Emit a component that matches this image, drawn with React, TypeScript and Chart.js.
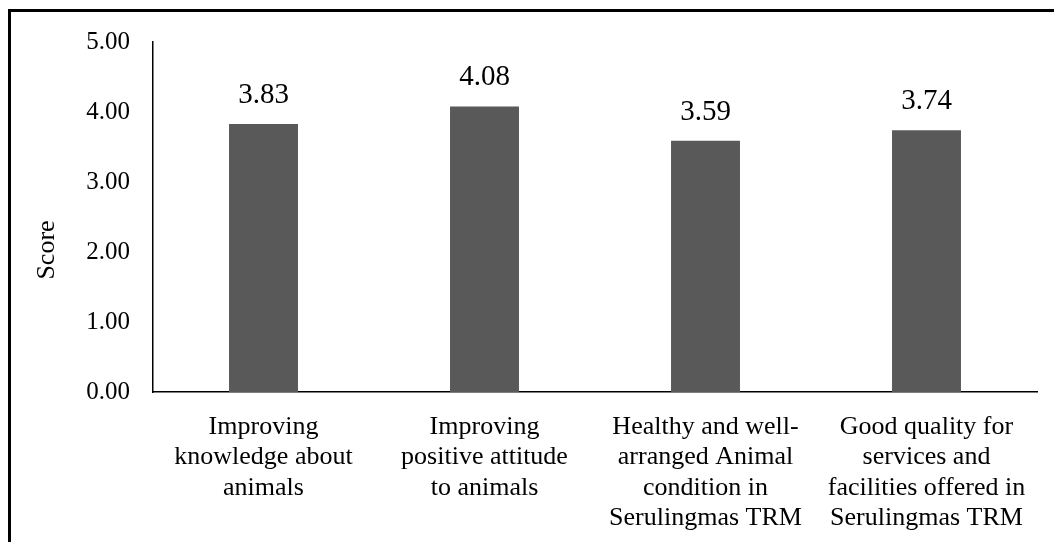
import React, { useEffect, useRef } from "react";
import { Chart, registerables } from "chart.js";

Chart.register(...registerables);

const categories: string[][] = [
  ["Improving", "knowledge about", "animals"],
  ["Improving", "positive attitude", "to animals"],
  ["Healthy and well-", "arranged Animal", "condition in", "Serulingmas TRM"],
  ["Good quality for", "services and", "facilities offered in", "Serulingmas TRM"],
];
const scores: number[] = [3.83, 4.08, 3.59, 3.74];
const yTicks: number[] = [0, 1, 2, 3, 4, 5];
const yAxisTitle = "Score";

const SERIF = "'Liberation Serif', 'Times New Roman', serif";

// Draws the score above each bar and the rotated axis title
const annotationPlugin = {
  id: "scoreAnnotations",
  afterDatasetsDraw(chart: any) {
    const { ctx } = chart;
    const meta = chart.getDatasetMeta(0);
    ctx.save();
    ctx.fillStyle = "#000";
    ctx.font = `29px ${SERIF}`;
    ctx.textAlign = "center";
    ctx.textBaseline = "alphabetic";
    meta.data.forEach((bar: any, i: number) => {
      ctx.fillText(scores[i].toFixed(2), bar.x, bar.y - 21);
    });
    ctx.translate(47, 250);
    ctx.rotate(-Math.PI / 2);
    ctx.font = `26px ${SERIF}`;
    ctx.textBaseline = "middle";
    ctx.fillText(yAxisTitle, 0, 0);
    ctx.restore();
  },
};

export default function App() {
  const canvasRef = useRef<HTMLCanvasElement | null>(null);

  useEffect(() => {
    if (!canvasRef.current) return;
    const chart = new Chart(canvasRef.current, {
      type: "bar",
      data: {
        labels: categories,
        datasets: [
          {
            data: scores,
            backgroundColor: "#595959",
            borderWidth: 0,
            barPercentage: 0.312,
            categoryPercentage: 1,
          },
        ],
      },
      options: {
        animation: false,
        responsive: false,
        devicePixelRatio: 1,
        layout: { padding: { top: 42, right: 17, bottom: 0, left: 0 } },
        plugins: {
          legend: { display: false },
          tooltip: { enabled: false },
        },
        scales: {
          x: {
            grid: { display: false, drawTicks: false },
            border: { display: true, color: "#000", width: 1.5 },
            ticks: {
              color: "#000",
              font: { family: SERIF, size: 26, lineHeight: 1.17 },
              padding: 20,
              maxRotation: 0,
              minRotation: 0,
              autoSkip: false,
            },
            afterFit: (scale: any) => {
              scale.height = 150;
            },
          },
          y: {
            min: 0,
            max: 5,
            grid: { display: false, drawTicks: false },
            border: { display: true, color: "#000", width: 1.5 },
            afterBuildTicks: (scale: any) => {
              scale.ticks = yTicks.map((v) => ({ value: v }));
            },
            ticks: {
              color: "#000",
              font: { family: SERIF, size: 25 },
              padding: 23,
              callback: (v: any) => Number(v).toFixed(2),
            },
            afterFit: (scale: any) => {
              scale.width = 153;
            },
          },
        },
      },
      plugins: [annotationPlugin],
    });
    return () => chart.destroy();
  }, []);

  return (
    <div
      style={{
        position: "fixed",
        left: 0,
        top: 0,
        width: 1054,
        height: 542,
        overflow: "hidden",
        background: "#fff",
      }}
    >
      <div
        style={{
          position: "absolute",
          left: 8,
          top: 9,
          width: 1200,
          height: 700,
          borderTop: "3px solid #000",
          borderLeft: "3px solid #000",
        }}
      />
      <canvas
        ref={canvasRef}
        width={1054}
        height={542}
        style={{ position: "absolute", left: 0, top: 0 }}
      />
    </div>
  );
}
